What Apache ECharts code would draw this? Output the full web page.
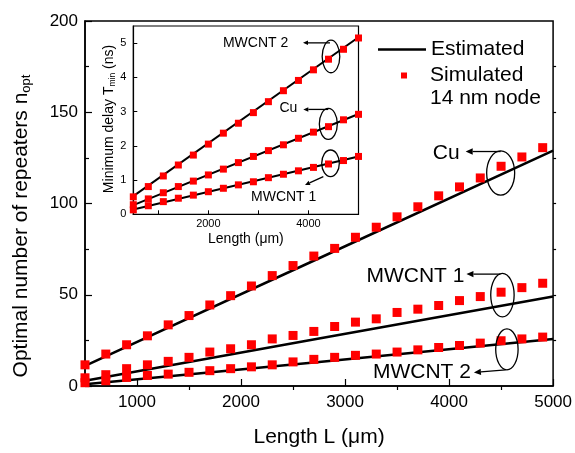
<!DOCTYPE html>
<html><head><meta charset="utf-8">
<script src="https://cdn.jsdelivr.net/npm/echarts@6/dist/echarts.min.js"></script>
<style>html,body{margin:0;padding:0;background:#fff}#c{width:575px;height:453px}</style>
</head><body><div id="c"></div>
<script>
// ---------- data ----------
const mainL = [500,700,900,1100,1300,1500,1700,1900,2100,2300,2500,2700,2900,3100,3300,3500,3700,3900,4100,4300,4500,4700,4900];
const simCu = [11.6,17.5,22.6,27.5,33.5,38.6,44.4,49.5,54.8,60.5,66.0,71.2,75.4,81.5,87.0,92.7,98.2,104.2,109.1,114.0,120.4,125.5,130.6];
const simM1 = [4.5,6.2,9.5,11.6,13.5,15.7,18.6,20.4,22.6,25.8,27.7,29.9,32.6,35.0,36.8,40.3,42.1,44.1,46.8,49.0,51.4,53.9,56.3];
const simM2 = [1.8,2.9,4.7,5.8,6.5,7.5,8.4,9.5,10.5,11.6,13.2,14.6,15.7,16.8,17.5,18.6,19.8,21.1,22.2,23.5,24.8,25.8,26.8];
const estL  = [500,2750,5000];
const estCu = [11.0,70.0,129.0];
const estM1 = [2.9,26.0,49.0];
const estM2 = [1.0,13.2,25.8];

const insL  = [500,800,1100,1400,1700,2000,2300,2600,2900,3200,3500,3800,4100,4400,4700,5000];
const insM2 = [0.51,0.81,1.12,1.44,1.73,2.05,2.37,2.66,2.97,3.29,3.61,3.91,4.22,4.53,4.82,5.15];
const insCu = [0.28,0.45,0.63,0.81,0.97,1.15,1.32,1.51,1.69,1.86,2.03,2.22,2.40,2.56,2.76,2.92];
const insM1 = [0.13,0.25,0.37,0.47,0.56,0.66,0.76,0.86,0.95,1.07,1.17,1.27,1.37,1.47,1.57,1.69];
const insEstL  = [500,5000];
const insEstM2 = [0.53,5.17];
const insEstCu = [0.27,2.93];
const insEstM1 = [0.14,1.69];

const mainXTicks = [1000,2000,3000,4000,5000];
const mainXMinor = [1500,2500,3500,4500];
const mainYTicks = [0,50,100,150,200];
const mainYMinor = [25,75,125,175];
const mainYRight = [25,50,75,100,125,150,175];
const insXTicks  = [1000,2000,3000,4000,5000];
const insXLabels = [2000,4000];
const insYTicks  = [0,1,2,3,4,5];

// ---------- chart ----------
const FF = '"Liberation Sans", Arial, Helvetica, sans-serif';
const zip = (xs, ys) => xs.map((x, i) => [x, ys[i]]);
const plain = v => String(v);
const chart = echarts.init(document.getElementById('c'));
const tickStyle = {color:'#000', width:1.2};
const noSplit = {show:false};

function lineS(name, data, xi, yi, w){
  return {type:'line', name:name, data:data, xAxisIndex:xi, yAxisIndex:yi, symbol:'none', showSymbol:false,
    lineStyle:{color:'#000', width:w}, itemStyle:{color:'#000'}, z:2, animation:false, clip:true};
}
function scatS(name, data, xi, yi, size, clip){
  return {type:'scatter', name:name, data:data, xAxisIndex:xi, yAxisIndex:yi, symbol:'rect',
    symbolSize:size, itemStyle:{color:'#ff0000', opacity:1}, z:3, animation:false, clip:clip};
}

chart.setOption({
  animation:false,
  textStyle:{fontFamily:FF},
  grid:[
    {left:85, top:21, width:471, height:367, show:true, borderColor:'#000', borderWidth:1.5, backgroundColor:'transparent'},
    {left:133.3, top:26, width:225.2, height:188.3, show:true, borderColor:'#000', borderWidth:1.2, backgroundColor:'#fff'}
  ],
  legend:[
    {data:['Estimated'], orient:'vertical', left:373, top:34, icon:'path://M0 0 H48 V2.5 H0 Z', itemWidth:48, itemHeight:2.5,
      selectedMode:false, itemStyle:{color:'#000'},
      textStyle:{fontSize:21, color:'#000', fontFamily:FF}},
    {data:['Simulated'], orient:'vertical', left:396, top:60, icon:'rect', itemWidth:6, itemHeight:6, selectedMode:false,
      itemStyle:{color:'#ff0000'},
      textStyle:{fontSize:21, color:'#000', fontFamily:FF, padding:[0,0,0,18]}}
  ],
  xAxis:[
    {gridIndex:0, type:'value', min:500, max:5000, splitLine:noSplit,
      axisLine:{show:true, lineStyle:{color:'#000', width:1.5}},
      axisTick:{show:true, inside:true, length:7, customValues:mainXTicks, lineStyle:tickStyle},
      axisLabel:{customValues:mainXTicks, formatter:plain, fontSize:17, color:'#000', margin:8, fontFamily:FF},
      name:'Length L (μm)', nameLocation:'middle', nameGap:41,
      nameTextStyle:{fontSize:21, color:'#000', fontFamily:FF}},
    {gridIndex:0, type:'value', min:500, max:5000, splitLine:noSplit,
      axisLine:{show:false},
      axisTick:{show:true, inside:true, length:4, customValues:mainXMinor, lineStyle:tickStyle},
      axisLabel:{show:false}},
    {gridIndex:1, type:'value', min:500, max:5000, splitLine:noSplit,
      axisLine:{show:true, lineStyle:{color:'#000', width:1.2}},
      axisTick:{show:true, inside:true, length:4, customValues:insXTicks, lineStyle:{color:'#000', width:1}},
      axisLabel:{customValues:insXLabels, formatter:plain, fontSize:11, color:'#000', margin:4, fontFamily:FF},
      name:'Length (μm)', nameLocation:'middle', nameGap:18,
      nameTextStyle:{fontSize:14, color:'#000', fontFamily:FF}}
  ],
  yAxis:[
    {gridIndex:0, type:'value', position:'left', min:0, max:200, splitLine:noSplit,
      axisLine:{show:true, lineStyle:{color:'#000', width:1.5}},
      axisTick:{show:true, inside:true, length:7, customValues:mainYTicks, lineStyle:tickStyle},
      axisLabel:{customValues:mainYTicks, formatter:plain, fontSize:17, color:'#000', margin:7, fontFamily:FF}},
    {gridIndex:0, type:'value', position:'left', min:0, max:200, splitLine:noSplit,
      axisLine:{show:false},
      axisTick:{show:true, inside:true, length:4, customValues:mainYMinor, lineStyle:tickStyle},
      axisLabel:{show:false}},
    {gridIndex:0, type:'value', position:'right', min:0, max:200, splitLine:noSplit,
      axisLine:{show:false},
      axisTick:{show:true, inside:false, length:3, customValues:mainYRight, lineStyle:tickStyle},
      axisLabel:{show:false}},
    {gridIndex:1, type:'value', position:'left', min:0, max:5.5, splitLine:noSplit,
      axisLine:{show:true, lineStyle:{color:'#000', width:1.2}},
      axisTick:{show:true, inside:true, length:4, customValues:insYTicks, lineStyle:{color:'#000', width:1}},
      axisLabel:{customValues:insYTicks, formatter:plain, fontSize:11, color:'#000', margin:7, fontFamily:FF}}
  ],
  series:[
    lineS('Estimated', zip(estL, estCu), 0, 0, 2.5),
    lineS('Estimated', zip(estL, estM1), 0, 0, 2.5),
    lineS('Estimated', zip(estL, estM2), 0, 0, 2.5),
    scatS('Simulated', zip(mainL, simCu), 0, 0, 9, false),
    scatS('Simulated', zip(mainL, simM1), 0, 0, 9, false),
    scatS('Simulated', zip(mainL, simM2), 0, 0, 9, false),
    lineS('Estimated', zip(insEstL, insEstM2), 2, 3, 2),
    lineS('Estimated', zip(insEstL, insEstCu), 2, 3, 2),
    lineS('Estimated', zip(insEstL, insEstM1), 2, 3, 2),
    scatS('Simulated', zip(insL, insM2), 2, 3, 7, true),
    scatS('Simulated', zip(insL, insCu), 2, 3, 7, true),
    scatS('Simulated', zip(insL, insM1), 2, 3, 7, true)
  ]
});

// ---------- annotations anchored on data coordinates ----------
const annotations = [
  {ax:0, at:[4496,116.7], rx:14, ry:22.2, a0:[0,-21.5], a1:[-35,-21.5], text:'Cu', t:[-41,-19.5], align:'right', fs:21, head:7},
  {ax:0, at:[4513,49.8], rx:11.7, ry:21.7, a0:[-2,-21], a1:[-36,-21], text:'MWCNT 1', t:[-38,-18.7], align:'right', fs:21, head:7},
  {ax:0, at:[4556,20.1], rx:11.2, ry:20.5, a0:[-1.2,20.5], a1:[-33,23.1], text:'MWCNT 2', t:[-36,22.8], align:'right', fs:21, head:7},
  {ax:1, at:[4450,4.61], rx:8.8, ry:16.3, a0:[-1,-13.6], a1:[-28,-13.6], text:'MWCNT 2', t:[-42.7,-13.8], align:'right', fs:14, head:5},
  {ax:1, at:[4397,2.64], rx:9, ry:15.5, a0:[0,-14.5], a1:[-25,-14.5], text:'Cu', t:[-31,-15.8], align:'right', fs:14, head:5},
  {ax:1, at:[4441,1.49], rx:8.8, ry:13.3, a0:[-7.2,13.4], a1:[-25.5,21.7], text:'MWCNT 1', t:[-79.5,34.2], align:'left', fs:14, head:5}
];
const g = [];
annotations.forEach(a => {
  const finder = a.ax === 0 ? {xAxisIndex:0, yAxisIndex:0} : {xAxisIndex:2, yAxisIndex:3};
  const c = chart.convertToPixel(finder, a.at);
  const x0 = c[0] + a.a0[0], y0 = c[1] + a.a0[1];
  const x1 = c[0] + a.a1[0], y1 = c[1] + a.a1[1];
  const ang = Math.atan2(y1 - y0, x1 - x0);
  const h = a.head, w = h * 0.45;
  const bx = x1 - h * Math.cos(ang), by = y1 - h * Math.sin(ang);
  const px = -Math.sin(ang) * w, py = Math.cos(ang) * w;
  g.push({type:'ellipse', shape:{cx:c[0], cy:c[1], rx:a.rx, ry:a.ry}, style:{fill:null, stroke:'#000', lineWidth:1.3}, z:50});
  g.push({type:'line', shape:{x1:x0, y1:y0, x2:bx, y2:by}, style:{stroke:'#000', lineWidth:1.3}, z:50});
  g.push({type:'polygon', shape:{points:[[x1,y1],[bx+px,by+py],[bx-px,by-py]]}, style:{fill:'#000'}, z:50});
  g.push({type:'text', x:c[0] + a.t[0], y:c[1] + a.t[1], z:50,
    style:{text:a.text, fill:'#000', fontSize:a.fs, fontFamily:FF, align:a.align, verticalAlign:'middle'}});
});
g.push({type:'text', x:430, y:98.5, z:50,
  style:{text:'14 nm node', fill:'#000', fontSize:21, fontFamily:FF, align:'left', verticalAlign:'middle'}});
g.push({type:'text', x:21, y:226, rotation:Math.PI/2, z:50,
  style:{text:'{a|Optimal number of repeaters n}{b|opt}', fill:'#000', align:'center', verticalAlign:'middle',
    rich:{a:{fontSize:21, fontFamily:FF, fill:'#000'}, b:{fontSize:13, fontFamily:FF, fill:'#000', padding:[10,0,0,0]}}}});
g.push({type:'text', x:109, y:119, rotation:Math.PI/2, z:50,
  style:{text:'{a|Minimum delay T}{b|min}{a| (ns)}', fill:'#000', align:'center', verticalAlign:'middle',
    rich:{a:{fontSize:14, fontFamily:FF, fill:'#000'}, b:{fontSize:8.5, fontFamily:FF, fill:'#000', padding:[7,0,0,0]}}}});
chart.setOption({graphic:{elements:g}});
</script></body></html>
